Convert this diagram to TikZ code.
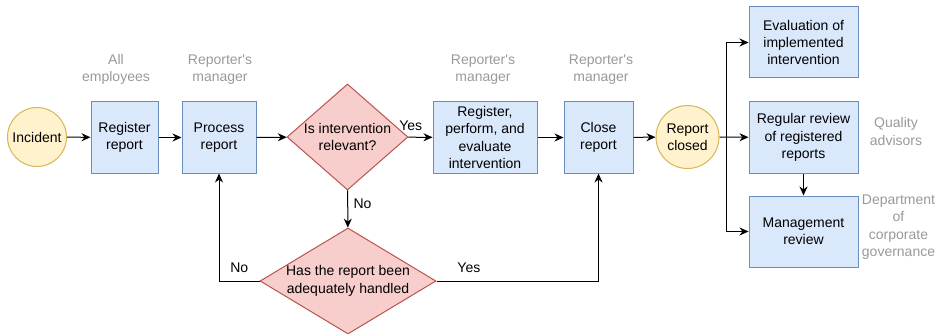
\documentclass[tikz,border=0pt]{standalone}
\usepackage{fontspec}
\setmainfont{Liberation Sans}
\usetikzlibrary{shapes.geometric,arrows.meta}
\definecolor{boxfill}{HTML}{DAE8FC}
\definecolor{boxline}{HTML}{6C8EBF}
\definecolor{eventfill}{HTML}{FFF2CC}
\definecolor{eventline}{HTML}{D6B656}
\definecolor{askfill}{HTML}{F8CECC}
\definecolor{askline}{HTML}{B85450}
\definecolor{rolegray}{HTML}{999999}

\begin{document}
\begin{tikzpicture}[x=1pt, y=-1pt, font=\fontsize{14}{17.3}\selectfont,
	task/.style={draw=boxline, fill=boxfill, line width=1pt, align=center, minimum height=71pt, inner sep=1pt},
	event/.style={circle, draw=eventline, fill=eventfill, line width=1pt, align=center, inner sep=0pt},
	ask/.style={diamond, draw=askline, fill=askfill, line width=1pt, inner sep=0pt},
	role/.style={text=rolegray, align=center},
	flow/.style={line width=1pt, -{Stealth[length=9pt, width=8pt]}}]
	\useasboundingbox (0,0) rectangle (941,334);
	\node[event, minimum size=59pt] (incident) at (37,137) {Incident};
	\node[task, minimum width=67pt] (register) at (124.5,137.5) {Register\\report};
	\node[task, minimum width=74pt] (process) at (219,137.5) {Process\\report};
	\node[ask, minimum width=121pt, minimum height=106pt,
		label={[align=center]center:Is intervention\\relevant?}] (relevant) at (347.5,137) {};
	\node[task, minimum width=104pt] (perform) at (485,137.5) {Register,\\perform, and\\evaluate\\intervention};
	\node[task, minimum width=69pt] (close) at (598.5,137.5) {Close\\report};
	\node[event, minimum size=63pt] (closed) at (687.5,137) {Report\\closed};
	\node[task, minimum width=109pt] (evaluation) at (803.5,42.5) {Evaluation of\\implemented\\intervention};
	\node[task, minimum width=109pt] (regular) at (803.5,137.5) {Regular review\\of registered\\reports};
	\node[task, minimum width=109pt] (management) at (803.5,231.5) {Management\\review};
	\node[ask, minimum width=176pt, minimum height=106pt,
		label={[align=center]center:Has the report been\\adequately handled}] (handled) at (348,281) {};
	\coordinate (split) at (726,137);

	\node[role] (allstaff) at (116,69.5) {All\\employees};
	\node[role] (roleprocess) at (220,69.5) {Reporter\textquotesingle s\\manager};
	\node[role] (roleperform) at (483,69.5) {Reporter\textquotesingle s\\manager};
	\node[role] (roleclose) at (601,69.5) {Reporter\textquotesingle s\\manager};
	\node[role] (quality) at (896,131.5) {Quality\\advisors};
	\node[role] (governance) at (898.5,227) {Department\\of\\corporate\\governance};

	\draw[flow] (incident) -- (register);
	\draw[flow] (register) -- (process);
	\draw[flow] (process) -- (relevant);
	\draw[flow] (relevant) -- node[pos=0.1, above=3pt] {Yes} (perform);
	\draw[flow] (perform) -- (close);
	\draw[flow] (close) -- (closed);
	\draw[flow] (closed) -- (regular);
	\draw[flow] (split) |- (evaluation);
	\draw[flow] (split) |- (management);
	\draw[flow] (regular) -- (management);
	\draw[flow] (relevant) -- node[right=2pt, pos=0.35] {No} (handled);
	\draw[flow] (handled) -| node[pos=0.25, above=5pt] {No} (process);
	\draw[flow] (handled) -| node[pos=0.1, above=5pt] {Yes} (close);
\end{tikzpicture}
\end{document}
